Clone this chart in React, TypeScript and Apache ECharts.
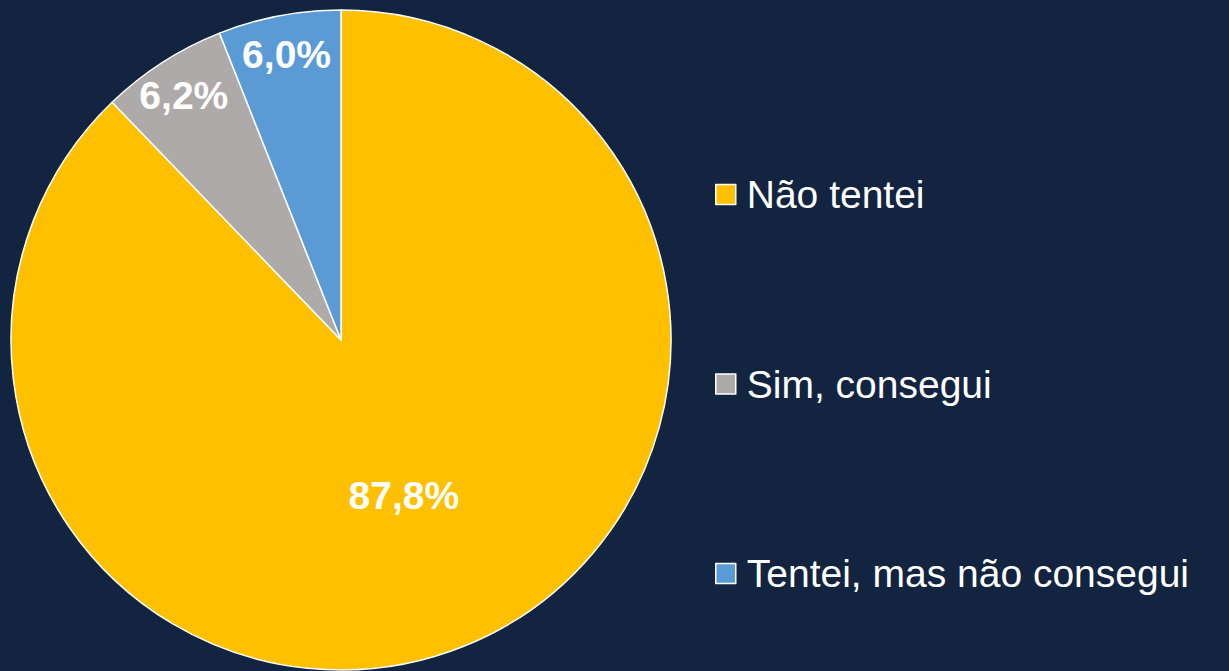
import React, { useEffect, useRef } from "react";
import * as echarts from "echarts";

const categories = ["Não tentei", "Sim, consegui", "Tentei, mas não consegui"];
const values = [87.8, 6.2, 6.0];
const colors = ["#FFC000", "#AEAAAA", "#5B9BD5"];
const outerLabelShown = [false, true, true];

const FONT = "'Liberation Sans', Arial, sans-serif";

export default function App() {
  const ref = useRef<HTMLDivElement>(null);
  useEffect(() => {
    if (!ref.current) return;
    const chart = echarts.init(ref.current, undefined, { renderer: "svg" });
    const fmt = (p: any) => p.value.toFixed(1).replace(".", ",") + "%";
    const mainData = categories.map((name, i) => ({
      name,
      value: values[i],
      itemStyle: { color: colors[i] },
      label: { show: !outerLabelShown[i] },
    }));
    const outerData = categories.map((name, i) => ({
      name,
      value: values[i],
      label: { show: outerLabelShown[i] },
    }));
    const labelStyle = {
      position: "inside",
      color: "#FFFFFF",
      fontSize: 39,
      fontWeight: "bold",
      fontFamily: FONT,
      formatter: fmt,
    };
    chart.setOption({
      animation: false,
      backgroundColor: "#12243F",
      legend: {
        orient: "vertical",
        left: 710,
        top: 170,
        itemWidth: 20,
        itemHeight: 20,
        itemGap: 150.5,
        icon: "rect",
        itemStyle: { borderColor: "#FFFFFF", borderWidth: 1.5 },
        textStyle: {
          color: "#FFFFFF",
          fontSize: 39,
          fontFamily: FONT,
          padding: [0, 0, 0, 6],
        },
        data: categories,
      },
      series: [
        {
          type: "pie",
          center: [341, 340],
          radius: [0, 330],
          startAngle: 90,
          clockwise: true,
          silent: true,
          itemStyle: { borderColor: "#FFFFFF", borderWidth: 1.5 },
          label: labelStyle,
          labelLine: { show: false },
          data: mainData,
        },
        {
          type: "pie",
          center: [341, 340],
          radius: [245, 330],
          startAngle: 90,
          clockwise: true,
          silent: true,
          legendHoverLink: false,
          itemStyle: { color: "transparent", borderWidth: 0 },
          label: labelStyle,
          labelLine: { show: false },
          data: outerData,
        },
      ],
    });
    return () => chart.dispose();
  }, []);
  return (
    <div
      ref={ref}
      style={{ position: "fixed", left: 0, top: 0, width: 1229, height: 671 }}
    />
  );
}
